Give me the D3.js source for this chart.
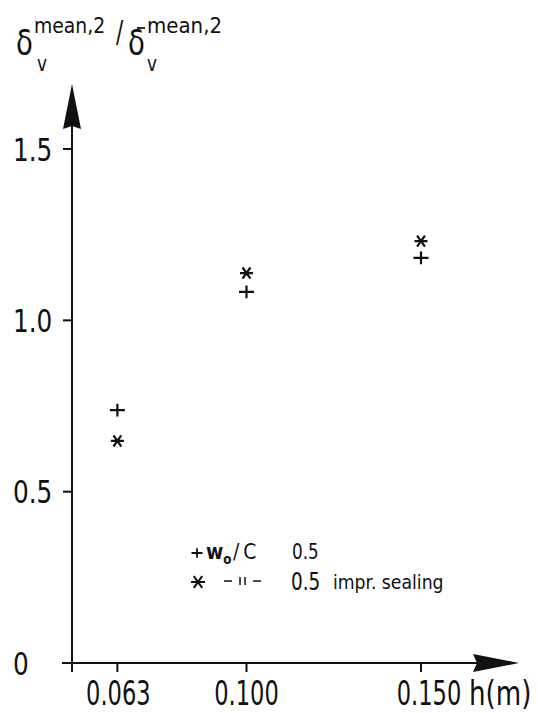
<!DOCTYPE html>
<html><head><meta charset="utf-8">
<script src="https://cdn.jsdelivr.net/npm/d3@7"></script>
<style>html,body{margin:0;padding:0;background:#fff;}svg{display:block;}</style>
</head><body>
<svg id="chart" width="538" height="713"></svg>
<script>
// ---- data ----
const heights = [0.063, 0.100, 0.150];
const plainValues = [0.738, 1.083, 1.182];      // + w0/C 0.5
const sealingValues = [0.648, 1.138, 1.231];    // * 0.5 impr. sealing
const yTicks = [0, 0.5, 1.0, 1.5];
const yTickLabels = ["0", "0.5", "1.0", "1.5"];
const xTickLabels = ["0.063", "0.100", "0.150"];

const FONT = "'DejaVu Sans Condensed','DejaVu Sans',sans-serif";
const svg = d3.select("#chart");
const x = d3.scaleLinear().domain([0.05, 0.15]).range([72, 421]);
const y = d3.scaleLinear().domain([0, 1.5]).range([663, 149]);
const ink = "#111";

function txt(g, px, py, str, size, sx = 0.8, anchor = "start") {
  return g.append("text").attr("transform", `translate(${px},${py}) scale(${sx},1)`)
    .attr("font-family", FONT).attr("font-size", size).attr("fill", ink)
    .attr("text-anchor", anchor).text(str);
}

// axes lines
svg.append("line").attr("x1", 62).attr("x2", 480).attr("y1", y(0)).attr("y2", y(0))
  .attr("stroke", ink).attr("stroke-width", 2);
svg.append("line").attr("x1", x(0.05)).attr("x2", x(0.05)).attr("y1", y(0) + 9).attr("y2", 125)
  .attr("stroke", ink).attr("stroke-width", 2);
// arrows
svg.append("path").attr("d", d3.line()([[x(0.05), 84], [x(0.05) + 9, 129], [x(0.05), 126], [x(0.05) - 9, 129]]) + "Z").attr("fill", ink);
svg.append("path").attr("d", d3.line()([[519, y(0)], [473, y(0) - 9], [477, y(0)], [473, y(0) + 9]]) + "Z").attr("fill", ink);

// y ticks
const yt = svg.append("g");
yTicks.forEach((t, i) => {
  if (t !== 0) yt.append("line").attr("x1", x(0.05) - 9).attr("x2", x(0.05)).attr("y1", y(t)).attr("y2", y(t))
    .attr("stroke", ink).attr("stroke-width", 2);
  txt(yt, 13, y(t) + 11.5, yTickLabels[i], 32, 0.86);
});
// x ticks
const xt = svg.append("g");
const labelNudge = [1, 0, 8];
heights.forEach((h, i) => {
  xt.append("line").attr("x1", x(h)).attr("x2", x(h)).attr("y1", y(0)).attr("y2", y(0) + 9)
    .attr("stroke", ink).attr("stroke-width", 2);
  txt(xt, x(h) + labelNudge[i], 705, xTickLabels[i], 33, 0.76, "middle");
});
txt(svg, 469, 705, "h(m)", 33, 0.88);

// custom symbols
const plusSym = { draw(ctx, size) { const r = Math.sqrt(size) / 2; ctx.moveTo(-r, 0); ctx.lineTo(r, 0); ctx.moveTo(0, -r * 0.85); ctx.lineTo(0, r * 0.85); } };
const starSym = { draw(ctx, size) { const r = Math.sqrt(size) / 2; ctx.moveTo(-r, 0); ctx.lineTo(r, 0);
  ctx.moveTo(-r * 0.6, -r * 0.85); ctx.lineTo(r * 0.6, r * 0.85); ctx.moveTo(r * 0.6, -r * 0.85); ctx.lineTo(-r * 0.6, r * 0.85); } };

const pts = svg.append("g").attr("fill", "none").attr("stroke", ink).attr("stroke-width", 2.2);
pts.selectAll(".p").data(heights.map((h, i) => [h, plainValues[i]])).join("path")
  .attr("transform", d => `translate(${x(d[0])},${y(d[1])})`)
  .attr("d", d3.symbol().type(plusSym).size(225));
pts.selectAll(".s").data(heights.map((h, i) => [h, sealingValues[i]])).join("path")
  .attr("transform", d => `translate(${x(d[0])},${y(d[1])})`)
  .attr("d", d3.symbol().type(starSym).size(170));

// legend
const lg = svg.append("g");
lg.append("path").attr("transform", "translate(197,553)").attr("d", d3.symbol().type(plusSym).size(121))
  .attr("fill", "none").attr("stroke", ink).attr("stroke-width", 1.8);
lg.append("path").attr("transform", "translate(198,582)").attr("d", d3.symbol().type(starSym).size(196))
  .attr("fill", "none").attr("stroke", ink).attr("stroke-width", 2);
const w = txt(lg, 206, 559, "", 22, 0.95);
w.append("tspan").attr("font-weight", "bold").text("w");
w.append("tspan").attr("font-size", 14).attr("dy", 5).attr("font-weight", "bold").text("o");
txt(lg, 233, 559, "/C", 22, 0.95).attr("letter-spacing", 4);
txt(lg, 292, 559, "0.5", 22, 0.85);
// ditto mark "–ıı–"
lg.append("line").attr("x1", 224).attr("x2", 232).attr("y1", 581).attr("y2", 581).attr("stroke", ink).attr("stroke-width", 1.5);
lg.append("line").attr("x1", 240).attr("x2", 240).attr("y1", 577).attr("y2", 585).attr("stroke", ink).attr("stroke-width", 1.5);
lg.append("line").attr("x1", 245).attr("x2", 245).attr("y1", 577).attr("y2", 585).attr("stroke", ink).attr("stroke-width", 1.5);
lg.append("line").attr("x1", 253).attr("x2", 261).attr("y1", 581).attr("y2", 581).attr("stroke", ink).attr("stroke-width", 1.5);
txt(lg, 291, 590, "0.5", 25, 0.82);
txt(lg, 333, 589, "impr. sealing", 20, 0.96);

// title
const tt = svg.append("g");
txt(tt, 16, 55, "δ", 36, 0.85);
txt(tt, 34, 33, "mean,2", 22, 0.95);
txt(tt, 37, 71, "v", 22, 0.85);
txt(tt, 116, 42, "/", 30, 0.8);
txt(tt, 128, 55, "δ", 36, 0.85);
tt.append("line").attr("x1", 137).attr("x2", 145).attr("y1", 28).attr("y2", 28).attr("stroke", ink).attr("stroke-width", 1.8);
txt(tt, 147, 33, "mean,2", 22, 1.0);
txt(tt, 147, 71, "v", 22, 0.85);
</script>
</body></html>
